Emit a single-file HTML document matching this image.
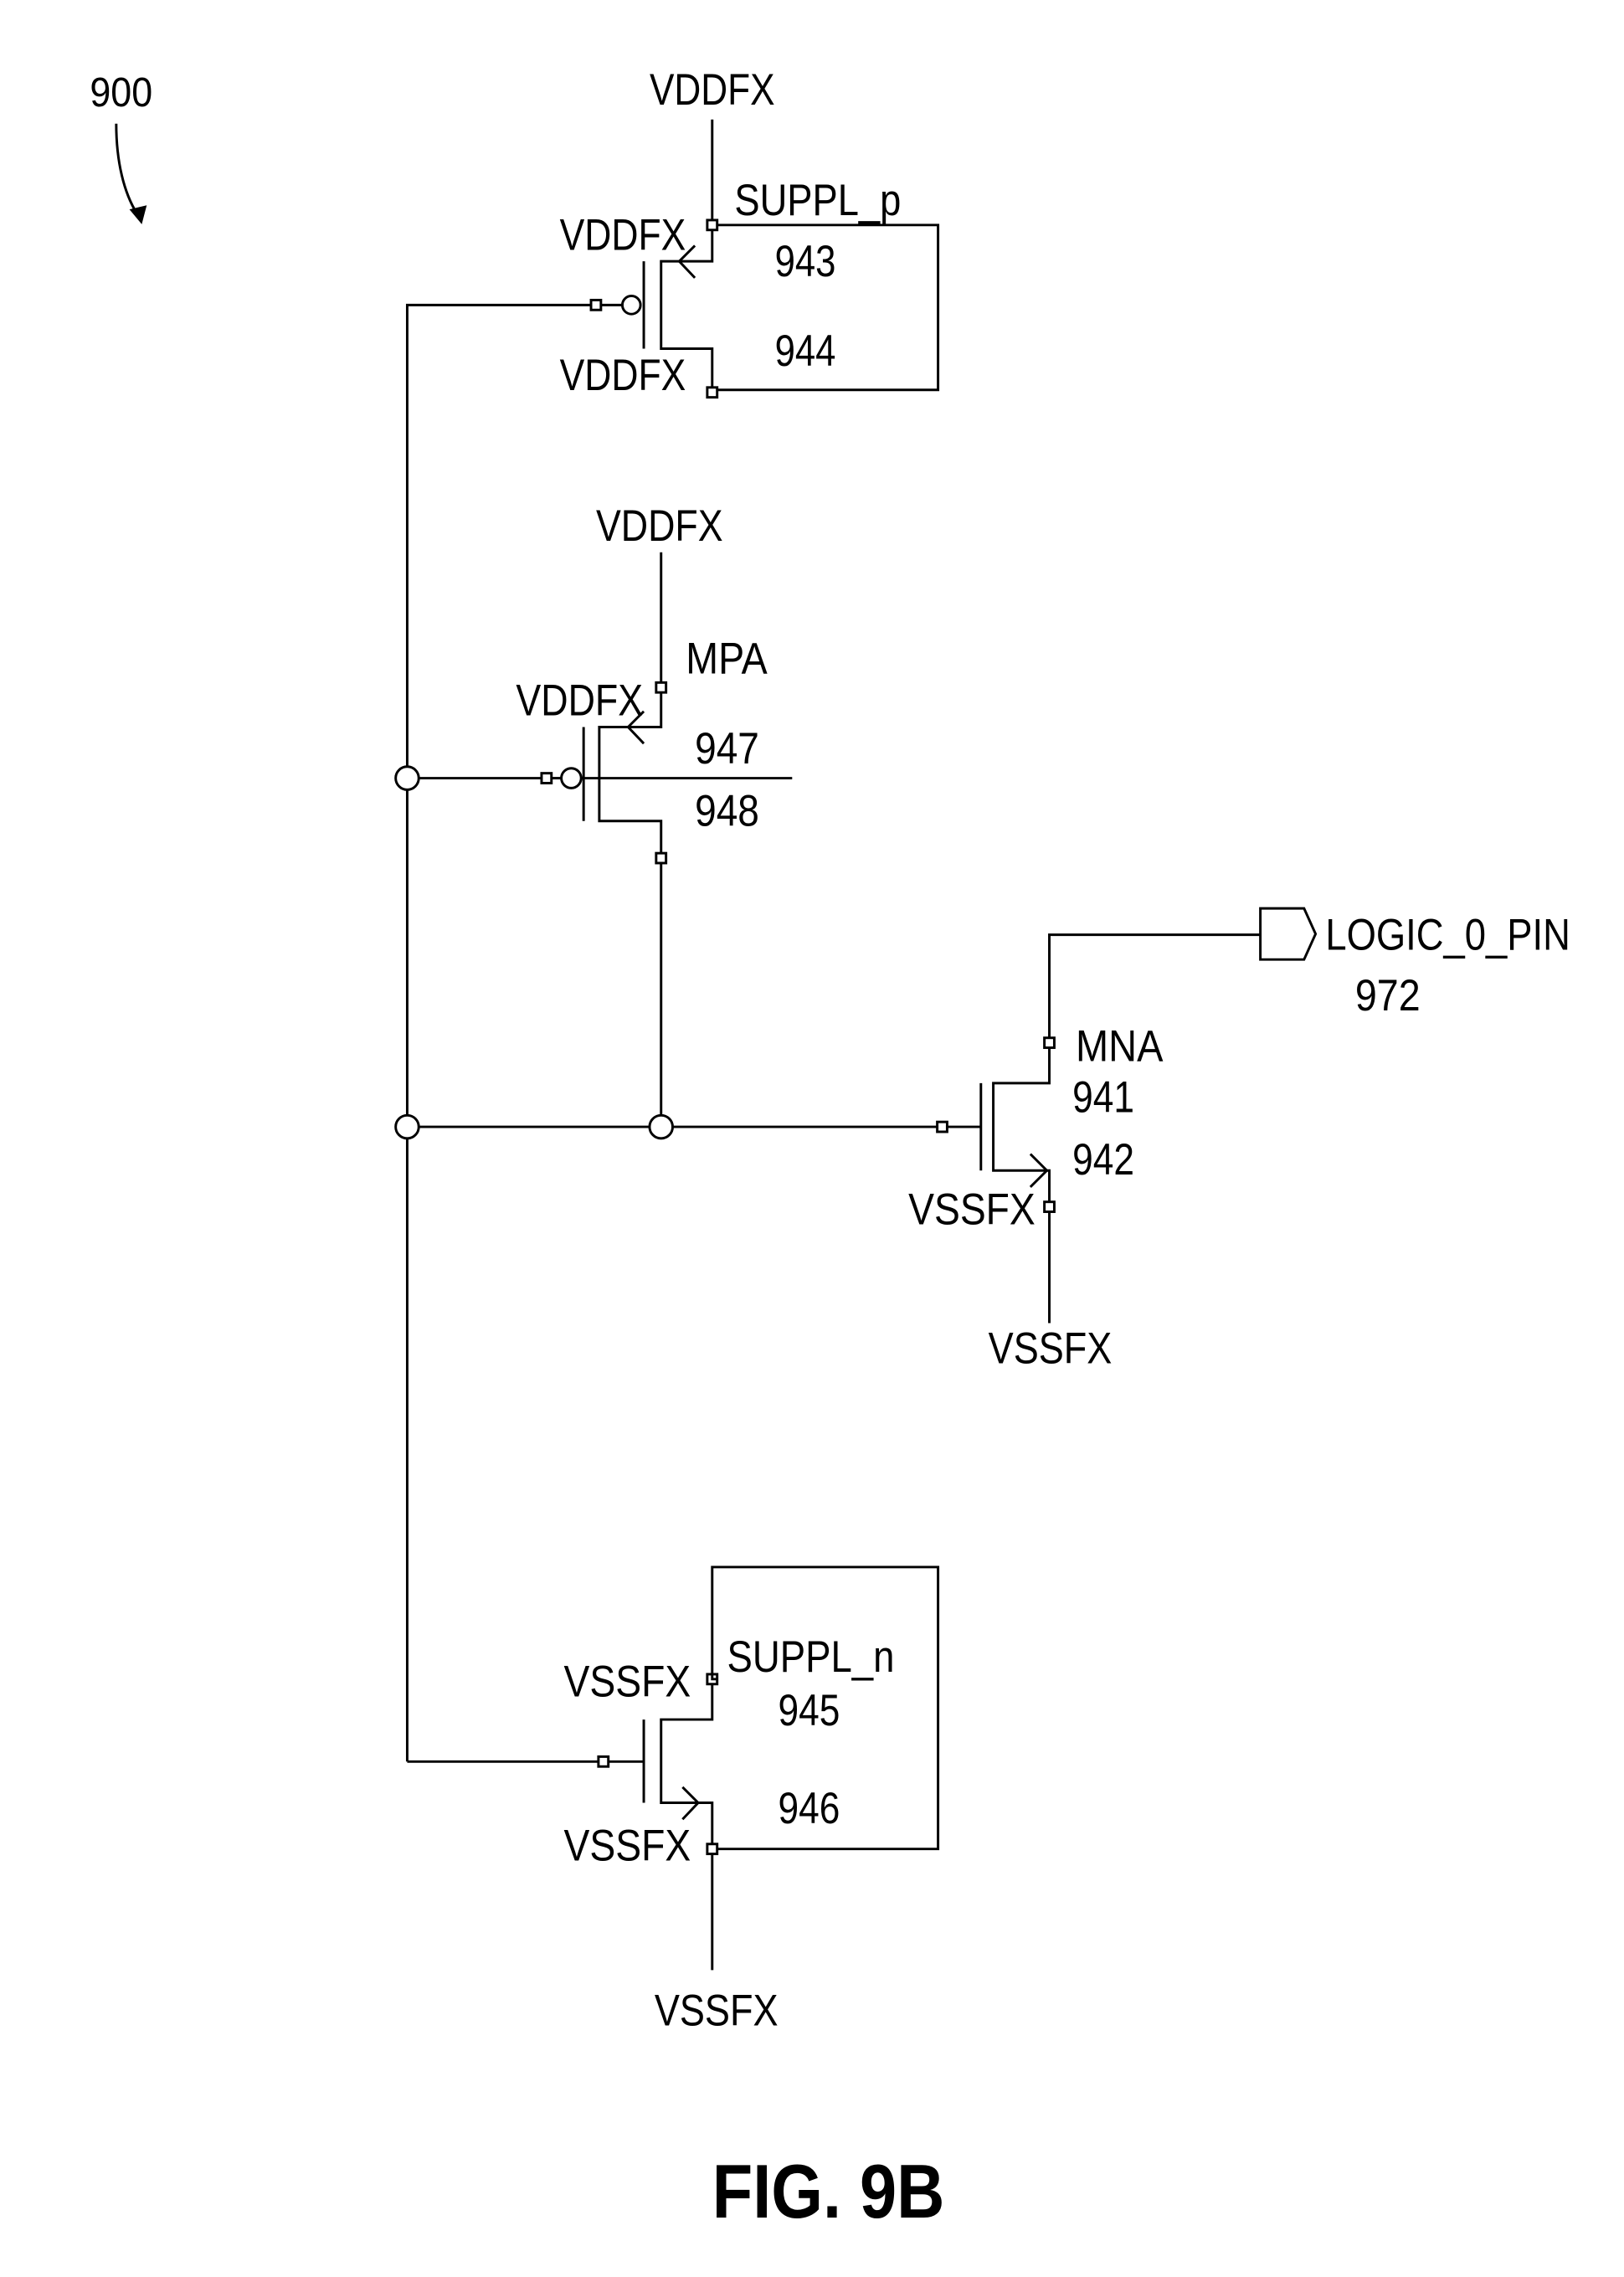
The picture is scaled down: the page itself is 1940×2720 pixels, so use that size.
<!DOCTYPE html>
<html><head><meta charset="utf-8"><style>
html,body{margin:0;padding:0;background:#fff}
svg{display:block}
text{font-family:"Liberation Sans",Arial,sans-serif;fill:#000}
</style></head><body>
<svg width="1940" height="2720" viewBox="0 0 1940 2720" xmlns="http://www.w3.org/2000/svg">
<g transform="scale(0.9847)">
<g fill="none" stroke="#000" stroke-width="3">
<!-- top transistor 943/944 -->
<line x1="864" y1="145" x2="864" y2="267"/>
<polyline points="864,279 864,317 802,317 802,423 864,423 864,470"/>
<line x1="781" y1="317" x2="781" y2="423"/>
<polyline points="843,298 824,317 843,337"/>
<polyline points="870,273 1138,273 1138,473 870,473"/>
<rect x="858" y="267" width="12" height="12"/>
<rect x="858" y="470" width="12" height="12"/>
<circle cx="766" cy="370" r="11"/>
<rect x="717" y="364" width="12" height="12"/>
<polyline points="717,370 494,370 494,930"/>
<line x1="729" y1="370" x2="755" y2="370"/>
<!-- MPA -->
<line x1="802" y1="670" x2="802" y2="828"/>
<polyline points="802,840 802,882 727,882 727,996 802,996 802,1035"/>
<line x1="708" y1="882" x2="708" y2="996"/>
<polyline points="781,863 762,882 781,902"/>
<rect x="796" y="828" width="12" height="12"/>
<rect x="796" y="1035" width="12" height="12"/>
<line x1="802" y1="1047" x2="802" y2="1353"/>
<circle cx="693" cy="944" r="12"/>
<rect x="657" y="938" width="12" height="12"/>
<line x1="508" y1="944" x2="657" y2="944"/>
<line x1="669" y1="944" x2="681" y2="944"/>
<line x1="705" y1="944" x2="961" y2="944"/>
<circle cx="494" cy="944" r="14"/>
<line x1="494" y1="958" x2="494" y2="1353"/>
<circle cx="494" cy="1367" r="14"/>
<circle cx="802" cy="1367" r="14"/>
<line x1="508" y1="1367" x2="788" y2="1367"/>
<line x1="816" y1="1367" x2="1137" y2="1367"/>
<line x1="494" y1="1381" x2="494" y2="2137"/>
<!-- MNA -->
<rect x="1137" y="1361" width="12" height="12"/>
<line x1="1149" y1="1367" x2="1190" y2="1367"/>
<line x1="1190" y1="1314" x2="1190" y2="1420"/>
<polyline points="1273,1271 1273,1314 1205,1314 1205,1420 1273,1420 1273,1458"/>
<polyline points="1250,1400 1270,1420 1250,1440"/>
<rect x="1267" y="1259" width="12" height="12"/>
<rect x="1267" y="1458" width="12" height="12"/>
<line x1="1273" y1="1470" x2="1273" y2="1605"/>
<polyline points="1273,1259 1273,1134 1529,1134"/>
<polygon points="1529,1102 1582,1102 1596,1133 1582,1164 1529,1164"/>
<!-- bottom transistor 945/946 -->
<polyline points="870,2037 864,2037 864,1901 1138,1901 1138,2243 870,2243"/>
<rect x="858" y="2031" width="12" height="12"/>
<polyline points="864,2043 864,2086 802,2086 802,2187 864,2187 864,2237"/>
<line x1="781" y1="2086" x2="781" y2="2187"/>
<polyline points="828,2168 847,2187 828,2207"/>
<rect x="726" y="2131" width="12" height="12"/>
<polyline points="494,2137 726,2137"/>
<line x1="738" y1="2137" x2="781" y2="2137"/>
<rect x="858" y="2237" width="12" height="12"/>
<line x1="864" y1="2249" x2="864" y2="2390"/>
<!-- 900 arrow -->
<path d="M141,150 C141,195 150,235 168,262" stroke-width="3"/>
</g>
<polygon points="172,272 157,254 178,249" fill="#000"/>
<g font-size="54">
<text x="109" y="129" textLength="76" lengthAdjust="spacingAndGlyphs" font-size="50">900</text>
<text x="788" y="127" textLength="152" lengthAdjust="spacingAndGlyphs">VDDFX</text>
<text x="891" y="261" textLength="202" lengthAdjust="spacingAndGlyphs">SUPPL_p</text>
<text x="679" y="303" textLength="153" lengthAdjust="spacingAndGlyphs">VDDFX</text>
<text x="940" y="335" textLength="74" lengthAdjust="spacingAndGlyphs">943</text>
<text x="940" y="444" textLength="74" lengthAdjust="spacingAndGlyphs">944</text>
<text x="679" y="473" textLength="153" lengthAdjust="spacingAndGlyphs">VDDFX</text>
<text x="723" y="656" textLength="154" lengthAdjust="spacingAndGlyphs">VDDFX</text>
<text x="832" y="817" textLength="99" lengthAdjust="spacingAndGlyphs">MPA</text>
<text x="626" y="868" textLength="154" lengthAdjust="spacingAndGlyphs">VDDFX</text>
<text x="843" y="926" textLength="78" lengthAdjust="spacingAndGlyphs">947</text>
<text x="843" y="1002" textLength="78" lengthAdjust="spacingAndGlyphs">948</text>
<text x="1608" y="1152" textLength="297" lengthAdjust="spacingAndGlyphs">LOGIC_0_PIN</text>
<text x="1644" y="1226" textLength="79" lengthAdjust="spacingAndGlyphs">972</text>
<text x="1305" y="1287" textLength="106" lengthAdjust="spacingAndGlyphs">MNA</text>
<text x="1301" y="1349" textLength="75" lengthAdjust="spacingAndGlyphs">941</text>
<text x="1301" y="1425" textLength="75" lengthAdjust="spacingAndGlyphs">942</text>
<text x="1102" y="1485" textLength="154" lengthAdjust="spacingAndGlyphs">VSSFX</text>
<text x="1199" y="1654" textLength="150" lengthAdjust="spacingAndGlyphs">VSSFX</text>
<text x="882" y="2028" textLength="203" lengthAdjust="spacingAndGlyphs">SUPPL_n</text>
<text x="684" y="2058" textLength="154" lengthAdjust="spacingAndGlyphs">VSSFX</text>
<text x="944" y="2093" textLength="75" lengthAdjust="spacingAndGlyphs">945</text>
<text x="944" y="2212" textLength="75" lengthAdjust="spacingAndGlyphs">946</text>
<text x="684" y="2257" textLength="154" lengthAdjust="spacingAndGlyphs">VSSFX</text>
<text x="794" y="2457" textLength="150" lengthAdjust="spacingAndGlyphs">VSSFX</text>
<text x="864" y="2690" textLength="282" lengthAdjust="spacingAndGlyphs" font-size="92" font-weight="bold">FIG. 9B</text>
</g>
</g>
</svg>
</body></html>
